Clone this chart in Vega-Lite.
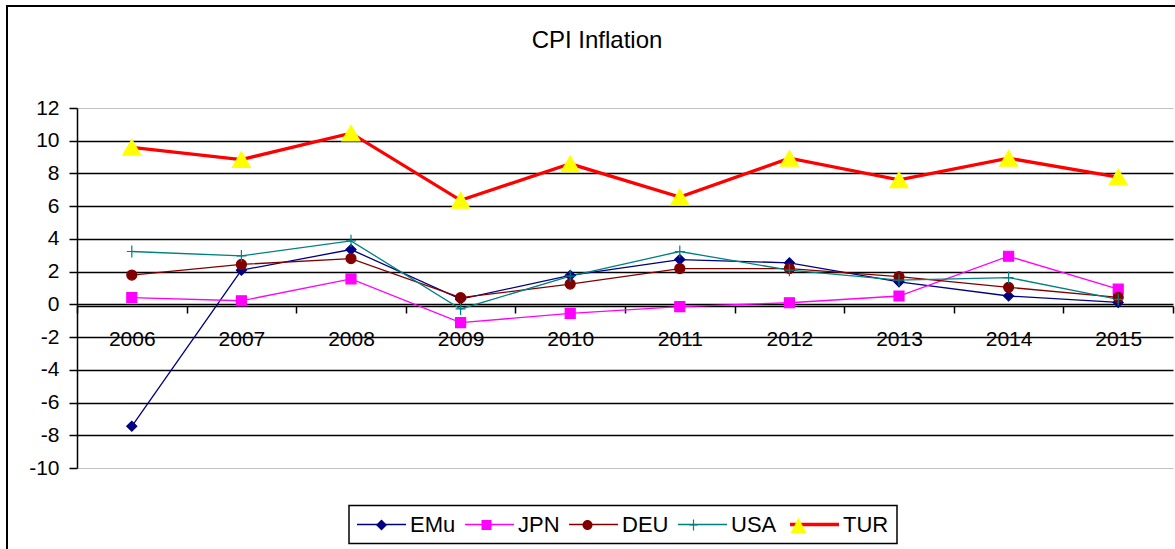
{
  "$schema": "https://vega.github.io/schema/vega-lite/v6.json",
  "autosize": "none",
  "padding": {"left": 7, "top": 6, "right": 0, "bottom": 0},
  "width": 1180,
  "height": 560,
  "background": "white",
  "title": {"text": "CPI Inflation", "fontSize": 24, "font": "Liberation Sans", "fontWeight": "normal", "color": "black", "anchor": "middle", "baseline": "alphabetic", "offset": -66},
  "config": {"view": {"stroke": "black", "strokeWidth": 2, "fill": "white"}, "font": "Liberation Sans"},
  "resolve": {"scale": {"fill": "independent", "shape": "independent", "stroke": "independent"}},
  "data": {"values": [
    {"year": "2006", "series": "EMu", "value": -7.45},
    {"year": "2007", "series": "EMu", "value": 2.09},
    {"year": "2008", "series": "EMu", "value": 3.35},
    {"year": "2009", "series": "EMu", "value": 0.32},
    {"year": "2010", "series": "EMu", "value": 1.77},
    {"year": "2011", "series": "EMu", "value": 2.74},
    {"year": "2012", "series": "EMu", "value": 2.54},
    {"year": "2013", "series": "EMu", "value": 1.38},
    {"year": "2014", "series": "EMu", "value": 0.51},
    {"year": "2015", "series": "EMu", "value": 0.12},
    {"year": "2006", "series": "JPN", "value": 0.41},
    {"year": "2007", "series": "JPN", "value": 0.22},
    {"year": "2008", "series": "JPN", "value": 1.56},
    {"year": "2009", "series": "JPN", "value": -1.12},
    {"year": "2010", "series": "JPN", "value": -0.55},
    {"year": "2011", "series": "JPN", "value": -0.14},
    {"year": "2012", "series": "JPN", "value": 0.1},
    {"year": "2013", "series": "JPN", "value": 0.51},
    {"year": "2014", "series": "JPN", "value": 2.94},
    {"year": "2015", "series": "JPN", "value": 0.93},
    {"year": "2006", "series": "DEU", "value": 1.79},
    {"year": "2007", "series": "DEU", "value": 2.44},
    {"year": "2008", "series": "DEU", "value": 2.8},
    {"year": "2009", "series": "DEU", "value": 0.41},
    {"year": "2010", "series": "DEU", "value": 1.24},
    {"year": "2011", "series": "DEU", "value": 2.19},
    {"year": "2012", "series": "DEU", "value": 2.19},
    {"year": "2013", "series": "DEU", "value": 1.69},
    {"year": "2014", "series": "DEU", "value": 1.04},
    {"year": "2015", "series": "DEU", "value": 0.43},
    {"year": "2006", "series": "USA", "value": 3.23},
    {"year": "2007", "series": "USA", "value": 2.96},
    {"year": "2008", "series": "USA", "value": 3.88},
    {"year": "2009", "series": "USA", "value": -0.28},
    {"year": "2010", "series": "USA", "value": 1.73},
    {"year": "2011", "series": "USA", "value": 3.23},
    {"year": "2012", "series": "USA", "value": 2.09},
    {"year": "2013", "series": "USA", "value": 1.48},
    {"year": "2014", "series": "USA", "value": 1.64},
    {"year": "2015", "series": "USA", "value": 0.3},
    {"year": "2006", "series": "TUR", "value": 9.6},
    {"year": "2007", "series": "TUR", "value": 8.85},
    {"year": "2008", "series": "TUR", "value": 10.46},
    {"year": "2009", "series": "TUR", "value": 6.36},
    {"year": "2010", "series": "TUR", "value": 8.59},
    {"year": "2011", "series": "TUR", "value": 6.56},
    {"year": "2012", "series": "TUR", "value": 8.93},
    {"year": "2013", "series": "TUR", "value": 7.61},
    {"year": "2014", "series": "TUR", "value": 8.93},
    {"year": "2015", "series": "TUR", "value": 7.78}
  ]},
  "layer": [
    {
      "mark": {"type": "line", "clip": false},
      "encoding": {
        "x": {
          "field": "year", "type": "ordinal",
          "scale": {"type": "band", "range": [70, 1166], "paddingInner": 0, "paddingOuter": 0},
          "axis": {"orient": "bottom", "offset": -260, "title": null, "labelAngle": 0, "labelFontSize": 21, "labelColor": "black", "labelFont": "Liberation Sans", "labelPadding": 15, "tickSize": 7, "tickColor": "black", "tickWidth": 1.5, "tickBand": "extent", "domainColor": "black", "domainWidth": 1.5, "grid": false}
        },
        "y": {
          "field": "value", "type": "quantitative",
          "scale": {"domain": [-10, 12], "range": [462, 102], "nice": false, "zero": false},
          "axis": {"orient": "left", "offset": -70, "title": null, "values": [-10, -8, -6, -4, -2, 0, 2, 4, 6, 8, 10, 12], "labelExpr": "'' + datum.value", "labelFontSize": 21, "labelColor": "black", "labelFont": "Liberation Sans", "labelPadding": 10, "tickSize": 8, "tickColor": "black", "tickWidth": 1.5, "domainColor": "black", "domainWidth": 1.5, "grid": true,
            "gridColor": {"condition": {"test": "datum.value === 12 || datum.value === -10", "value": "#c0c0c0"}, "value": "black"},
            "gridWidth": {"condition": {"test": "datum.value === 12 || datum.value === -10", "value": 1}, "value": 1.5}}
        },
        "color": {
          "field": "series", "type": "nominal",
          "sort": ["EMu", "JPN", "DEU", "USA", "TUR"],
          "scale": {"range": ["#000080", "#FF00FF", "#800000", "#008080", "#FF0000"]},
          "legend": {
            "orient": "none", "legendX": 342, "legendY": 499.5, "direction": "horizontal", "title": null,
            "symbolType": "M-11,0H38", "symbolSize": 4, "symbolStrokeWidth": 1.5, "labelOffset": 31, "labelFontSize": 22, "labelFont": "Liberation Sans", "labelColor": "black",
            "columnPadding": 6, "padding": 8, "strokeColor": "black", "zindex": 1,
            "encode": {
              "legend": {"update": {"strokeWidth": {"value": 1.5}}},
              "symbols": {"update": {"strokeWidth": {"signal": "datum.value === 'TUR' ? 3.3 : 1.3"}, "size": {"value": 4}}}
            }
          }
        },
        "strokeWidth": {"condition": {"test": "datum.series === 'TUR'", "value": 3.3}, "value": 1.3}
      }
    },
    {
      "mark": {"type": "point", "filled": true, "opacity": 1, "strokeWidth": 1.2, "clip": false},
      "encoding": {
        "x": {"field": "year", "type": "ordinal"},
        "y": {"field": "value", "type": "quantitative"},
        "fill": {
          "field": "series", "type": "nominal",
          "scale": {"domain": ["EMu", "JPN", "DEU", "USA", "TUR"], "range": ["#000080", "#FF00FF", "#800000", "#008080", "#FFFF00"]},
          "legend": null
        },
        "stroke": {
          "field": "series", "type": "nominal",
          "scale": {"domain": ["EMu", "JPN", "DEU", "USA", "TUR"], "range": ["#000080", "#FF00FF", "#800000", "#008080", "#FFFF00"]},
          "legend": null
        },
        "shape": {
          "field": "series", "type": "nominal",
          "scale": {"domain": ["EMu", "JPN", "DEU", "USA", "TUR"], "range": ["diamond", "square", "circle", "M-1,0H1M0,-1.2V1.2", "triangle-up"]},
          "legend": null
        },
        "size": {"condition": {"test": "datum.series === 'TUR'", "value": 324}, "value": 100}
      }
    },
    {
      "transform": [{"filter": "datum.year === 'none'"}],
      "mark": {"type": "point", "filled": true, "opacity": 1, "strokeWidth": 0, "clip": false},
      "encoding": {
        "x": {"field": "year", "type": "ordinal"},
        "y": {"field": "value", "type": "quantitative"},
        "fill": {
          "field": "series", "type": "nominal",
          "scale": {"domain": ["EMu", "JPN", "DEU", "USA", "TUR"], "range": ["#000080", "#FF00FF", "#800000", "#008080", "#FFFF00"]},
          "legend": {
            "orient": "none", "legendX": 342, "legendY": 499.5, "direction": "horizontal", "title": null,
            "symbolSize": 4, "symbolStrokeWidth": 1.5, "labelOffset": 31, "labelFontSize": 22, "labelFont": "Liberation Sans", "labelOpacity": 0,
            "columnPadding": 6, "padding": 8, "zindex": 2,
            "encode": {
              "symbols": {"update": {"size": {"value": 4}, "strokeWidth": {"value": 0}, "opacity": {"value": 1}}},
              "labels": {"update": {"dy": {"value": 400}}}
            }
          }
        },
        "shape": {
          "field": "series", "type": "nominal",
          "scale": {"domain": ["EMu", "JPN", "DEU", "USA", "TUR"], "range": ["M13.5,-5.5L19,0L13.5,5.5L8,0Z", "M8.5,-5H18.5V5H8.5Z", "M8.5,0A5,5,0,1,1,18.5,0A5,5,0,1,1,8.5,0Z", "M9.5,-0.6H17.5V0.6H9.5ZM12.9,-5.5H14.1V5.5H12.9Z", "M13.5,-7L21.5,8.5L5.5,8.5Z"]},
          "legend": {
            "orient": "none", "legendX": 342, "legendY": 499.5, "direction": "horizontal", "title": null,
            "symbolSize": 4, "symbolStrokeWidth": 1.5, "labelOffset": 31, "labelFontSize": 22, "labelFont": "Liberation Sans", "labelOpacity": 0,
            "columnPadding": 6, "padding": 8, "zindex": 2,
            "encode": {
              "symbols": {"update": {"size": {"value": 4}, "strokeWidth": {"value": 0}, "opacity": {"value": 1}}},
              "labels": {"update": {"dy": {"value": 400}}}
            }
          }
        }
      }
    }
  ]
}
